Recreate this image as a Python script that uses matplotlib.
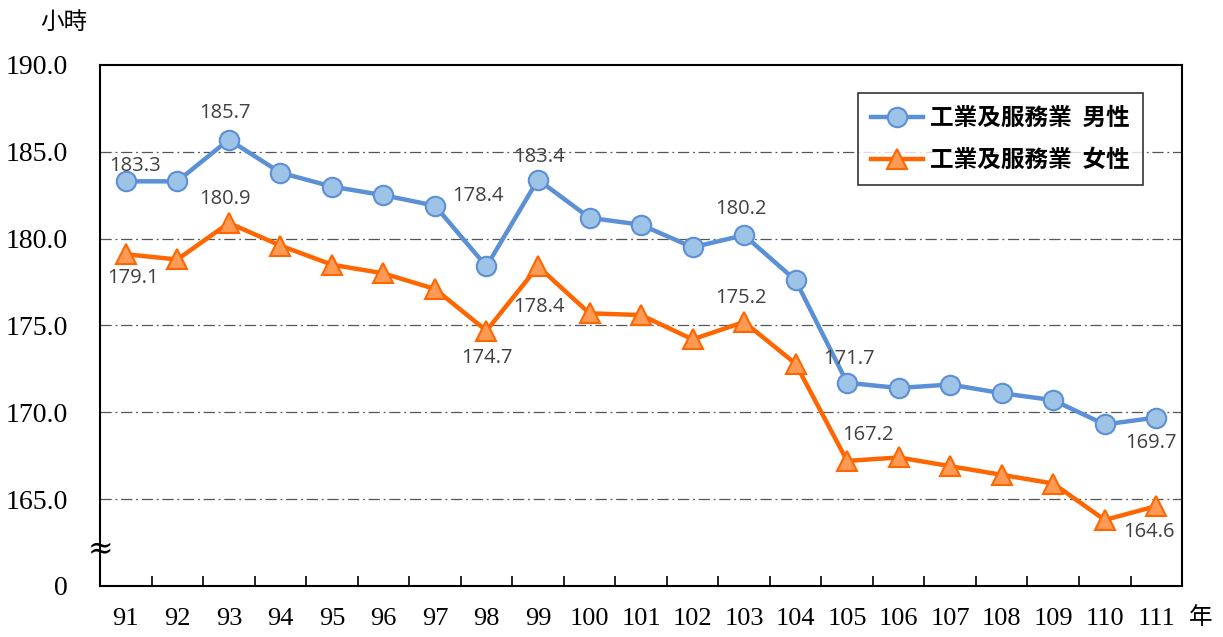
import matplotlib
matplotlib.use("Agg")
import matplotlib.pyplot as plt

years = ["91", "92", "93", "94", "95", "96", "97", "98", "99", "100", "101",
         "102", "103", "104", "105", "106", "107", "108", "109", "110", "111"]
male = [183.3, 183.3, 185.7, 183.8, 183.0, 182.5, 181.9, 178.4, 183.4, 181.2, 180.8,
        179.5, 180.2, 177.6, 171.7, 171.4, 171.6, 171.1, 170.7, 169.3, 169.7]
female = [179.1, 178.8, 180.9, 179.6, 178.5, 178.0, 177.1, 174.7, 178.4, 175.7, 175.6,
          174.2, 175.2, 172.8, 167.2, 167.4, 166.9, 166.4, 165.9, 163.8, 164.6]
male_name = "工業及服務業  男性"
female_name = "工業及服務業  女性"

# which points get a value label, and where it sits (dx, dy in points)
male_lab = {0: (7, 11), 2: (-3, 19), 7: (-6, 51), 8: (1, 16), 12: (-2, 19),
            14: (1, 17), 20: (-4, -18)}
female_lab = {0: (5, -17), 2: (-3, 17), 7: (0, -20), 8: (1, -29), 12: (-2, 17),
              14: (15, 19), 20: (-5, -19)}

serif = ["Liberation Serif", "Noto Sans CJK TC"]
cjk = ["Noto Sans CJK TC", "DejaVu Sans"]

fig = plt.figure(figsize=(12.23, 6.37), dpi=100)
ax = fig.add_axes([0.0818, 0.0801, 0.8847, 0.8179])

x = list(range(len(years)))
ax.plot(x, male, color="#5B8FD6", lw=3.2, marker="o", ms=14,
        mfc="#9DC3E6", mec="#5B8FD6", mew=1.5, label=male_name, zorder=3)
ax.plot(x, female, color="#FF6600", lw=3.2, marker="^", ms=15,
        mfc="#FF9A55", mec="#FF6600", mew=1.5, label=female_name, zorder=3)

for i, (dx, dy) in male_lab.items():
    ax.annotate(f"{male[i]:.1f}", (x[i], male[i]), xytext=(dx, dy), textcoords="offset points",
                ha="center", va="center", fontsize=14.5, color="#404040", family="Open Sans")
for i, (dx, dy) in female_lab.items():
    ax.annotate(f"{female[i]:.1f}", (x[i], female[i]), xytext=(dx, dy), textcoords="offset points",
                ha="center", va="center", fontsize=14.5, color="#404040", family="Open Sans")

ax.set_xlim(-0.5, len(years) - 0.5)
ax.set_ylim(160, 190)
yt = [160, 165, 170, 175, 180, 185, 190]
ax.set_yticks(yt)
ax.set_yticklabels(["0"] + [f"{v:.1f}" for v in yt[1:]], family=serif, fontsize=20)
ax.set_xticks(x)
ax.set_xticklabels(years, family=serif, fontsize=19)
ax.tick_params(axis="x", length=0, pad=16)
ax.tick_params(axis="y", length=0, pad=23)
ax.set_xticks([i + 0.5 for i in x[:-1]], minor=True)
ax.tick_params(axis="x", which="minor", direction="in", length=7, width=1.2)

for v in yt[1:-1]:
    ax.axhline(v, color="#555555", lw=0.9, ls=(0, (9, 3, 1.5, 3)), zorder=1)

for s in ax.spines.values():
    s.set_linewidth(1.5)
    s.set_color("black")

ax.text(-0.5, 162.1, "≈", ha="center", va="center", fontsize=22, family="DejaVu Serif")
fig.text(0.033, 0.965, "小時", family=cjk, fontsize=17, ha="left", va="center")
fig.text(0.972, 0.03, "年", family=cjk, fontsize=17, ha="left", va="center")

leg = ax.legend(loc="upper right", bbox_to_anchor=(0.964, 0.946), frameon=True, fancybox=False,
                prop={"family": cjk, "size": 17, "weight": "bold"}, handlelength=2.2,
                borderpad=0.55, labelspacing=0.75, handletextpad=0.3, borderaxespad=0)
leg.get_frame().set_edgecolor("black")
leg.get_frame().set_linewidth(1.2)

fig.savefig("out.png", dpi=100)
